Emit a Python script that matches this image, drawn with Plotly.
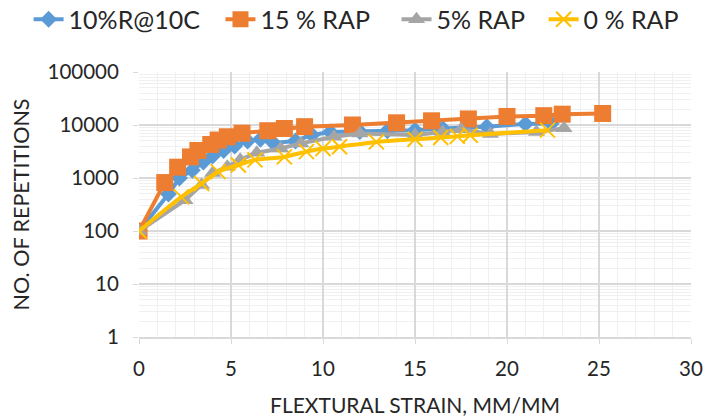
import plotly.graph_objects as go

# 10%R@10C
x_blue = [0, 1.6, 2.2, 2.9, 3.5, 4.0, 4.6, 5.2, 5.9, 6.6, 7.3, 8.5, 9.4, 10.4, 12.0, 13.5, 15.0, 16.5, 18.9, 21.0, 22.4]
y_blue = [100, 500, 1000, 1400, 2000, 2600, 3300, 4000, 5000, 5400, 4600, 5000, 6500, 7400, 7500, 7800, 8000, 8600, 9300, 10500, 10700]
# 15 % RAP
x_orange = [0, 1.4, 2.1, 2.8, 3.2, 3.9, 4.3, 4.8, 5.6, 7.0, 7.9, 9.0, 11.6, 14.0, 15.9, 17.9, 20.0, 22.0, 23.0, 25.2]
y_orange = [100, 820, 1600, 2500, 3300, 4300, 5200, 6000, 7000, 7800, 8600, 9300, 10000, 11000, 12000, 13000, 14500, 15000, 16000, 16500]
# 5% RAP
x_gray = [0, 2.5, 3.4, 4.0, 4.8, 5.5, 6.4, 7.7, 8.8, 10.6, 12.0, 15.0, 16.5, 17.5, 19.1, 21.6, 23.1]
y_gray = [100, 380, 740, 1240, 1630, 2200, 3000, 3600, 4500, 6000, 6900, 6500, 7400, 8300, 6800, 7400, 8700]
# 0 % RAP
x_yellow = [0, 2.3, 3.4, 4.3, 5.4, 6.3, 7.9, 9.1, 10.0, 10.9, 12.9, 15.0, 16.4, 17.3, 18.0, 22.2]
y_yellow = [100, 440, 790, 1320, 1760, 2200, 2500, 3150, 3600, 3900, 4800, 5400, 5800, 6100, 6400, 8000]

y_tickvals = [1, 10, 100, 1000, 10000, 100000]
y_ticktext = ["1", "10", "100", "1000", "10000", "100000"]
x_tickvals = [0, 5, 10, 15, 20, 25, 30]

FONT = "Lato"
TXT = "#262626"

fig = go.Figure()
fig.add_trace(go.Scatter(x=x_blue, y=y_blue, name="10%R@10C", mode="lines+markers", legend="legend",
                         line=dict(color="#5B9BD5", width=4),
                         marker=dict(symbol="diamond", size=13, color="#5B9BD5")))
fig.add_trace(go.Scatter(x=x_orange, y=y_orange, name="15 % RAP", mode="lines+markers", legend="legend2",
                         line=dict(color="#ED7D31", width=4),
                         marker=dict(symbol="square", size=17, color="#ED7D31")))
fig.add_trace(go.Scatter(x=x_gray, y=y_gray, name="5% RAP", mode="lines+markers", legend="legend3",
                         line=dict(color="#A5A5A5", width=4),
                         marker=dict(symbol="triangle-up", size=15, color="#A5A5A5")))
fig.add_trace(go.Scatter(x=x_yellow, y=y_yellow, name="0 % RAP", mode="lines+markers", legend="legend4",
                         line=dict(color="#FFC000", width=4, shape="spline", smoothing=0.6),
                         marker=dict(symbol="x-thin", size=15, color="#FFC000",
                                     line=dict(width=2, color="#FFC000"))))

leg_common = dict(orientation="h", xanchor="left", y=1.285, yanchor="top",
                  font=dict(family=FONT, size=25, color=TXT), itemsizing="trace",
                  bgcolor="rgba(0,0,0,0)")

fig.update_layout(
    width=705, height=417,
    margin=dict(l=139, r=14, t=72, b=80, autoexpand=False),
    paper_bgcolor="white", plot_bgcolor="white",
    font=dict(family=FONT, size=20, color=TXT),
    showlegend=True,
    legend=dict(x=-0.2, **leg_common),
    legend2=dict(x=0.1476, **leg_common),
    legend3=dict(x=0.4665, **leg_common),
    legend4=dict(x=0.733, **leg_common),
)
fig.update_xaxes(range=[0, 30], tickvals=x_tickvals, showgrid=True, gridcolor="#D9D9D9", gridwidth=1.5,
                 minor=dict(dtick=1, showgrid=True, gridcolor="#F0F0F0", gridwidth=1),
                 ticks="outside", ticklen=5, tickcolor="#D9D9D9",
                 showline=True, linecolor="#D9D9D9", linewidth=1.5, zeroline=False,
                 ticklabelstandoff=8, automargin=False,
                 tickfont=dict(size=20.5),
                 title=dict(text="FLEXTURAL STRAIN, MM/MM", standoff=20,
                            font=dict(family=FONT, size=21, color=TXT)))
fig.update_yaxes(type="log", range=[0, 5], tickvals=y_tickvals, ticktext=y_ticktext,
                 showgrid=True, gridcolor="#D9D9D9", gridwidth=1.5,
                 minor=dict(dtick="D1", showgrid=True, gridcolor="#F0F0F0", gridwidth=1),
                 ticks="outside", ticklen=5, tickcolor="#D9D9D9",
                 showline=False, zeroline=False, ticklabelstandoff=10, automargin=False,
                 tickfont=dict(size=20.5),
                 title=dict(text="NO. OF REPETITIONS", standoff=12,
                            font=dict(family=FONT, size=21.5, color=TXT)))

fig.write_html("out.html")
